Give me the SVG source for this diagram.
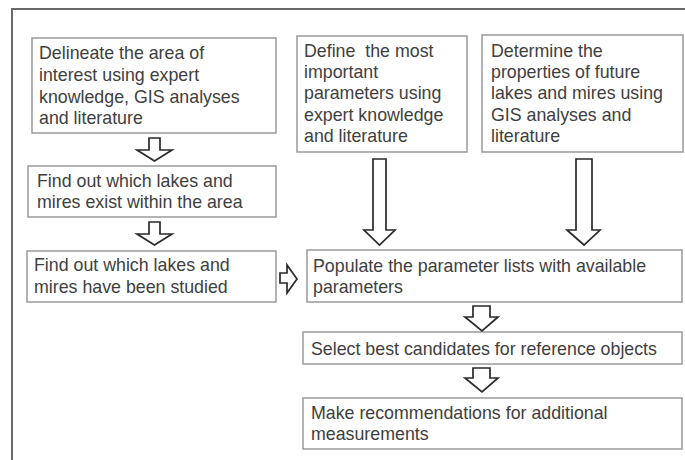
<svg xmlns="http://www.w3.org/2000/svg" width="685" height="460" viewBox="0 0 685 460">
<style>
.box{fill:#fff;stroke:#9a9a9a;stroke-width:1.5}
.t{font-family:"Liberation Sans",Arial,sans-serif;font-size:17.8px;fill:#404040}
.arr{fill:#fff;stroke:#2a2a2a;stroke-width:1.7;stroke-linejoin:miter}
.frame{fill:none;stroke:#6a6a6a;stroke-width:2}
</style>
<rect width="685" height="460" fill="#fff"/>
<path class="frame" d="M12,460 V9 H685"/>
<g id="n1"><rect class="box" x="32" y="38" width="244" height="95"/>
<text class="t" x="39" y="59">Delineate the area of</text>
<text class="t" x="39" y="81">interest using expert</text>
<text class="t" x="39" y="103">knowledge, GIS analyses</text>
<text class="t" x="39" y="124">and literature</text></g>
<g id="n2"><rect class="box" x="297" y="36" width="170" height="116"/>
<text class="t" x="304" y="57" xml:space="preserve">Define  the most</text>
<text class="t" x="304" y="78">important</text>
<text class="t" x="304" y="99">parameters using</text>
<text class="t" x="304" y="121">expert knowledge</text>
<text class="t" x="304" y="142">and literature</text></g>
<g id="n3"><rect class="box" x="482" y="35" width="201" height="117"/>
<text class="t" x="491" y="57">Determine the</text>
<text class="t" x="491" y="78">properties of future</text>
<text class="t" x="491" y="99">lakes and mires using</text>
<text class="t" x="491" y="121">GIS analyses and</text>
<text class="t" x="491" y="142">literature</text></g>
<g id="n4"><rect class="box" x="28" y="166" width="248" height="51"/>
<text class="t" x="37" y="187">Find out which lakes and</text>
<text class="t" x="37" y="208">mires exist within the area</text></g>
<g id="n5"><rect class="box" x="27" y="251" width="249" height="51"/>
<text class="t" x="34" y="271">Find out which lakes and</text>
<text class="t" x="34" y="293">mires have been studied</text></g>
<g id="n6"><rect class="box" x="307" y="250" width="375" height="52"/>
<text class="t" x="313" y="272">Populate the parameter lists with available</text>
<text class="t" x="313" y="293">parameters</text></g>
<g id="n7"><rect class="box" x="303" y="332" width="379" height="32"/>
<text class="t" x="311" y="355">Select best candidates for reference objects</text></g>
<g id="n8"><rect class="box" x="303" y="398" width="379" height="51"/>
<text class="t" x="311" y="419">Make recommendations for additional</text>
<text class="t" x="311" y="440">measurements</text></g>
<g id="connectors">
<polygon class="arr" points="149,138 160,138 160,150 172,150 154.5,161 137,150 149,150"/>
<polygon class="arr" points="149,222 160,222 160,234 172,234 154.5,245 137,234 149,234"/>
<polygon class="arr" points="280,273 287,273 287,265 297,279 287,293 287,283 280,283"/>
<polygon class="arr" points="373,159 386,159 386,230 395,230 379.5,245 364,230 373,230"/>
<polygon class="arr" points="576,159 592,159 592,230 600,230 584,245 567,230 576,230"/>
<polygon class="arr" points="473,306 490,306 490,317 498,317 482,331 465,317 473,317"/>
<polygon class="arr" points="473,368 490,368 490,378 498,378 482,392 465,378 473,378"/>
</g>
</svg>
